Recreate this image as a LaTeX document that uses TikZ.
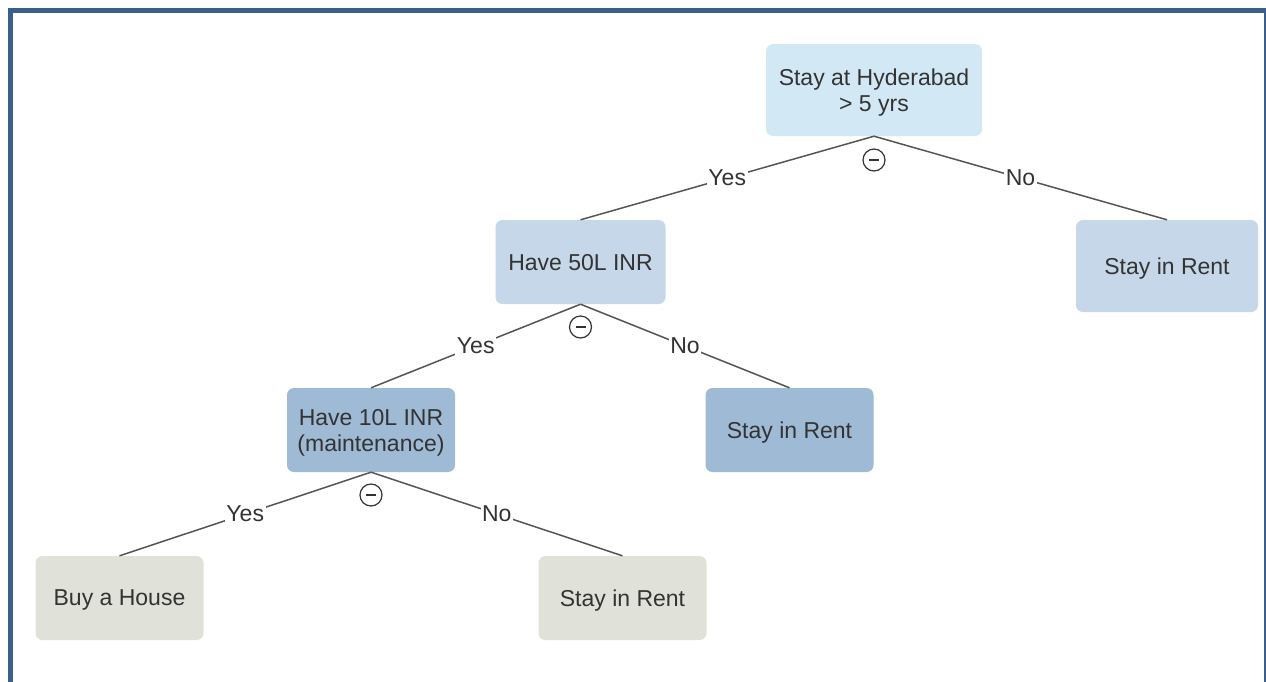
\documentclass[tikz,border=0pt]{standalone}
\usepackage{fontspec}
\setmainfont{Liberation Sans}
\definecolor{frameblue}{HTML}{3A5F8F}
\definecolor{rootfill}{HTML}{D3E8F5}
\definecolor{lvtwo}{HTML}{C5D7E8}
\definecolor{lvthree}{HTML}{9EBAD4}
\definecolor{leaffill}{HTML}{E0E2D9}
\definecolor{txt}{HTML}{333333}
\definecolor{edgec}{HTML}{555555}
\begin{document}
\begin{tikzpicture}[x=1pt,y=-1pt,
  box/.style={rounded corners=7pt, draw=none, text=txt, align=center, inner sep=0pt,
    text depth=0pt, font=\fontsize{23}{26}\selectfont},
  lbl/.style={fill=white, text=txt, inner sep=1.5pt, font=\fontsize{23}{26}\selectfont},
  conn/.style={draw=edgec, line width=1.5pt},
  minus/.style={circle, draw=txt, line width=1.2pt, minimum size=22pt, inner sep=0pt}
]
\useasboundingbox (0,0) rectangle (1266,681);
\clip (0,0) rectangle (1266,681);
\fill[white] (0,0) rectangle (1266,681);
\draw[frameblue, line width=5pt] (10.5,700) -- (10.5,10.5) -- (1266.5,10.5) -- (1266.5,700);

\node[box, fill=rootfill, minimum width=216pt, minimum height=92pt] (root) at (874,90) {Stay at Hyderabad\\> 5 yrs};
\node[box, fill=lvtwo, minimum width=170pt, minimum height=84pt] (h50) at (580.5,262) {Have 50L INR};
\node[box, fill=lvtwo, minimum width=182pt, minimum height=92pt] (r1) at (1167,266) {Stay in Rent};
\node[box, fill=lvthree, minimum width=168pt, minimum height=84pt] (h10) at (371,430) {Have 10L INR\\(maintenance)};
\node[box, fill=lvthree, minimum width=168pt, minimum height=84pt] (r2) at (789.5,430) {Stay in Rent};
\node[box, fill=leaffill, minimum width=168pt, minimum height=84pt] (buy) at (119.5,598) {Buy a House};
\node[box, fill=leaffill, minimum width=168pt, minimum height=84pt] (r3) at (622.5,598) {Stay in Rent};

\draw[conn] (root.south) -- node[lbl]{Yes} (h50.north);
\draw[conn] (root.south) -- node[lbl]{No} (r1.north);
\draw[conn] (h50.south) -- node[lbl]{Yes} (h10.north);
\draw[conn] (h50.south) -- node[lbl]{No} (r2.north);
\draw[conn] (h10.south) -- node[lbl]{Yes} (buy.north);
\draw[conn] (h10.south) -- node[lbl]{No} (r3.north);

\node[minus] (m1) at (874,160) {};
\node[minus] (m2) at (580.5,327) {};
\node[minus] (m3) at (371,495) {};
\foreach \m in {m1,m2,m3}
  \draw[txt, line width=1.1pt] ([xshift=-5pt]\m.center) -- ([xshift=5pt]\m.center);
\end{tikzpicture}
\end{document}
